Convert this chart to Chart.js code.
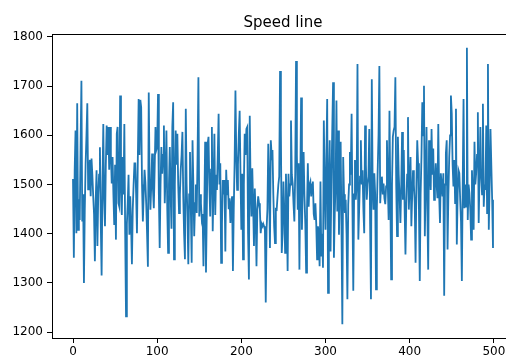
<!DOCTYPE html>
<html>
<head>
<meta charset="utf-8">
<script src="https://cdn.jsdelivr.net/npm/chart.js@4/dist/chart.umd.min.js"></script>
<style>
  html, body { margin: 0; padding: 0; background: #fff; overflow: hidden; }
  #wrap { width: 506px; height: 356px; overflow: hidden; position: relative; }
  canvas { display: block; }
</style>
</head>
<body>
<div id="wrap"><canvas id="chart" width="530" height="356"></canvas></div>
<script>
// Speed readings, one per sample step
const speeds = [
  1511,1351,1530,1610,1401,1665,1408,1470,1428,1580,
  1711,1425,1480,1300,1450,1543,1600,1665,1490,1523,
  1550,1476,1553,1520,1476,1440,1344,1470,1529,1375,
  1480,1520,1576,1420,1315,1500,1623,1470,1415,1540,
  1620,1560,1617,1530,1617,1560,1502,1556,1480,1418,
  1540,1388,1603,1617,1462,1455,1681,1500,1438,1556,
  1480,1623,1400,1232,1420,1462,1520,1398,1476,1420,
  1338,1450,1500,1543,1543,1480,1401,1550,1674,1560,
  1672,1657,1500,1425,1480,1530,1504,1460,1400,1333,
  1687,1510,1449,1500,1563,1490,1452,1530,1617,1570,
  1576,1684,1480,1371,1500,1576,1522,1560,1620,1462,
  1520,1610,1450,1361,1500,1576,1480,1410,1617,1667,
  1348,1500,1610,1540,1603,1500,1442,1480,1530,1560,
  1607,1476,1400,1348,1654,1500,1435,1338,1480,1566,
  1450,1341,1590,1500,1395,1462,1500,1442,1560,1718,
  1435,1480,1462,1430,1440,1334,1450,1587,1321,1450,
  1583,1597,1500,1435,1530,1617,1405,1500,1603,1438,
  1520,1489,1560,1644,1500,1543,1341,1420,1509,1480,
  1509,1364,1530,1480,1509,1450,1472,1422,1460,1476,
  1324,1450,1543,1691,1560,1489,1540,1603,1650,1520,
  1408,1522,1348,1500,1603,1560,1613,1617,1400,1307,
  1640,1500,1435,1533,1460,1375,1492,1440,1334,1450,
  1476,1462,1450,1401,1420,1415,1420,1415,1408,1260,
  1410,1450,1583,1500,1371,1590,1560,1570,1480,1415,
  1381,1450,1449,1476,1500,1516,1731,1610,1361,1400,
  1506,1450,1361,1522,1450,1324,1522,1476,1500,1630,
  1520,1502,1460,1425,1522,1751,1560,1449,1543,1327,
  1500,1677,1408,1500,1566,1476,1420,1321,1450,1543,
  1455,1500,1506,1476,1500,1506,1440,1428,1462,1420,
  1348,1415,1400,1334,1506,1354,1400,1331,1630,1500,
  1408,1550,1674,1280,1500,1590,1364,1500,1610,1708,
  1351,1442,1500,1671,1445,1610,1398,1500,1587,1408,
  1216,1556,1480,1442,1469,1400,1267,1459,1500,1566,
  1520,1644,1455,1284,1480,1550,1469,1500,1745,1388,
  1450,1516,1590,1500,1529,1450,1401,1620,1540,1469,
  1500,1516,1613,1420,1267,1714,1500,1449,1523,1480,
  1287,1450,1529,1600,1741,1462,1500,1516,1480,1502,
  1472,1460,1496,1590,1500,1428,1650,1480,1307,1500,
  1597,1610,1617,1718,1500,1395,1597,1520,1476,1422,
  1500,1607,1469,1570,1450,1358,1462,1520,1637,1449,
  1500,1556,1415,1480,1529,1500,1462,1341,1500,1590,
  1543,1450,1304,1480,1556,1667,1600,1701,1395,1500,
  1617,1450,1327,1590,1540,1489,1613,1520,1573,1469,
  1500,1543,1500,1472,1623,1480,1422,1523,1500,1476,
  1523,1274,1500,1563,1590,1368,1480,1556,1600,1681,
  1644,1540,1496,1550,1462,1654,1378,1480,1529,1523,
  1470,1425,1304,1500,1674,1452,1500,1455,1778,1428,
  1500,1482,1450,1388,1529,1480,1408,1587,1500,1523,
  1560,1647,1422,1520,1617,1516,1480,1664,1455,1500,
  1489,1620,1442,1745,1408,1500,1613,1540,1469,1371
];

// Axis tick labels
const xTicks = [0, 100, 200, 300, 400, 500];
const yTicks = [1200, 1300, 1400, 1500, 1600, 1700, 1800];

const chartTitle = 'Speed line';
const FONT = "'DejaVu Sans', sans-serif";

const points = speeds.map((v, i) => ({ x: i, y: v }));

// Full box around the plot area plus the title above it
const framePlugin = {
  id: 'frame',
  afterDraw(chart) {
    const { ctx, chartArea: a } = chart;
    ctx.save();
    ctx.strokeStyle = '#000';
    ctx.lineWidth = 1;
    ctx.strokeRect(Math.round(a.left) + 0.5, Math.round(a.top) + 0.5,
                   Math.round(a.right - a.left), Math.round(a.bottom - a.top));
    ctx.fillStyle = '#000';
    ctx.font = '15px ' + FONT;
    ctx.textAlign = 'center';
    ctx.textBaseline = 'alphabetic';
    ctx.fillText(chartTitle, (a.left + a.right) / 2, 27);
    ctx.restore();
  }
};

const plainLabel = v => String(v);

new Chart(document.getElementById('chart'), {
  type: 'line',
  data: {
    datasets: [{
      data: points,
      borderColor: '#1f77b4',
      borderWidth: 1.8,
      pointRadius: 0,
      tension: 0,
      fill: false
    }]
  },
  options: {
    responsive: false,
    animation: false,
    devicePixelRatio: 1,
    layout: { padding: { top: 34, right: 16, bottom: 0, left: 0 } },
    plugins: { legend: { display: false }, tooltip: { enabled: false }, title: { display: false } },
    scales: {
      x: {
        type: 'linear',
        min: -24.95,
        max: 523.95,
        afterBuildTicks(scale) { scale.ticks = xTicks.map(v => ({ value: v })); },
        afterFit(scale) { scale.height = 18; },
        grid: { display: true, drawOnChartArea: false, drawTicks: true, tickLength: 5, tickColor: '#000', tickWidth: 1 },
        border: { display: true, color: '#000', width: 1 },
        ticks: { color: '#000', font: { family: FONT, size: 12 }, padding: 2, maxRotation: 0, autoSkip: false, callback: plainLabel }
      },
      y: {
        type: 'linear',
        min: 1188,
        max: 1806,
        afterBuildTicks(scale) { scale.ticks = yTicks.map(v => ({ value: v })); },
        afterFit(scale) { scale.width = 52; },
        grid: { display: true, drawOnChartArea: false, drawTicks: true, tickLength: 5, tickColor: '#000', tickWidth: 1 },
        border: { display: true, color: '#000', width: 1 },
        ticks: { color: '#000', font: { family: FONT, size: 12 }, padding: 4, autoSkip: false, callback: plainLabel }
      }
    }
  },
  plugins: [framePlugin]
});
</script>
</body>
</html>
